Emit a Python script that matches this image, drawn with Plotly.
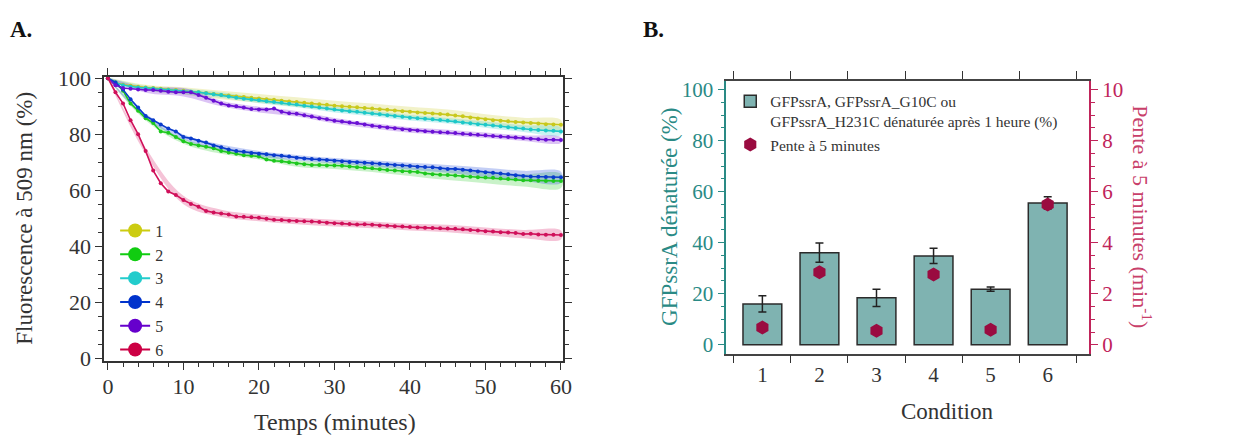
import plotly.graph_objects as go

# ---------------- Panel A data ----------------
time_min = list(range(0, 61))
series_names = ["1", "2", "3", "4", "5", "6"]
s1 = [100, 98.5, 97.7, 97.3, 97, 96.7, 96.5, 96.2, 96, 95.8, 95.5, 95.2, 95, 94.7, 94.4, 94, 93.8, 93.5, 93.3, 93,
      92.8, 92.5, 92.3, 92, 91.7, 91.5, 91.2, 91, 90.7, 90.5, 90.2, 90, 89.8, 89.6, 89.4, 89.2, 88.9, 88.7, 88.5, 88.2,
      88, 87.8, 87.6, 87.4, 87.2, 87, 86.7, 86.4, 86, 85.6, 85.3, 85, 84.8, 84.6, 84.4, 84.2, 84, 83.8, 83.6, 83.5, 83.4]
s2 = [100, 98.5, 95.5, 91, 88.4, 85.7, 84, 81, 80.5, 79, 77.5, 76.5, 76, 75.5, 75, 74, 73.5, 73, 72.5, 72.3,
      72, 71, 70.5, 70.3, 70, 69.5, 69.3, 69, 69, 68.8, 68.8, 68.7, 68.5, 68.2, 68, 67.8, 67.5, 67.2, 67, 66.8,
      66.6, 66.5, 66, 65.7, 65.5, 65.4, 65.2, 65, 64.8, 64.6, 64.5, 64.4, 64.2, 64, 63.8, 63.5, 63.5, 63.4, 63.3, 63.3, 63.3]
s3 = [100, 98.5, 97.5, 97, 96.7, 96.5, 96.3, 96, 95.8, 95.5, 95.3, 95.2, 95, 94.6, 94.3, 94, 93.5, 93, 92.7, 92.4,
      92.1, 91.8, 91.5, 91.2, 90.9, 90.6, 90.2, 89.9, 89.5, 89.2, 88.8, 88.5, 88.2, 88, 87.7, 87.4, 87.1, 86.8, 86.5, 86.2,
      85.9, 85.7, 85.5, 85.3, 85.1, 84.8, 84.5, 84.2, 83.9, 83.6, 83.4, 83.1, 82.8, 82.5, 82.2, 82, 81.7, 81.5, 81.3, 81.2, 81]
s4 = [100, 98.5, 96, 92.5, 89.5, 86.5, 85, 83.5, 82, 81, 79, 78.5, 77.7, 77, 76, 75.3, 74.5, 74, 73.7, 73.3,
      73, 72.8, 72.5, 72.3, 72, 71.6, 71.3, 71.1, 71, 70.8, 70.5, 70.3, 70.1, 70, 69.8, 69.6, 69.4, 69.2, 69, 68.8,
      68.6, 68.4, 68.3, 68.2, 67.8, 67.6, 67.6, 67.3, 67, 66.7, 66.4, 66.2, 66, 65.7, 65.3, 65.1, 64.9, 64.8, 64.7, 64.6, 64.6]
s5 = [100, 97.5, 96.5, 96.2, 96, 95.8, 95.8, 95.5, 95.2, 95, 95, 95, 94, 93, 92, 91, 90.3, 90, 89.5, 89,
      88.8, 88.8, 89.2, 88, 87.5, 87.3, 86.8, 86.3, 85.7, 85.3, 84.8, 84.5, 84.2, 84, 83.5, 83, 82.7, 82.4, 82.1, 81.8,
      81.5, 81.3, 81.1, 80.9, 80.7, 80.6, 80.4, 80.2, 80, 79.8, 79.6, 79.4, 79.2, 79, 78.8, 78.6, 78.4, 78.2, 78, 78, 77.9]
s6 = [100, 95, 91, 85, 80, 74, 67, 62.5, 59.5, 58.3, 56.5, 55.1, 54.1, 52.6, 52, 51.7, 51.3, 50.6, 50.5, 50.3,
      50.1, 49.8, 49.4, 49.3, 49.1, 49, 48.9, 48.8, 48.6, 48.4, 48.2, 48.1, 47.9, 47.7, 47.8, 47.6, 47.4, 47.3, 47.1, 47,
      46.8, 46.7, 46.6, 46.5, 46.4, 46.3, 46.2, 46, 45.8, 45.6, 45.3, 45.2, 45, 44.9, 44.7, 44.3, 44.4, 44.2, 44.1, 44.1, 44]
# band half-widths (SD) read every 5 minutes
band_time = [0, 5, 10, 15, 20, 25, 30, 35, 40, 45, 50, 55, 60]
sd1 = [0.3, 1.0, 1.3, 1.5, 1.6, 1.7, 1.8, 1.8, 1.8, 1.8, 1.8, 1.7, 1.7]
sd2 = [0.3, 0.8, 0.9, 1.0, 1.0, 1.1, 1.2, 1.3, 1.5, 1.8, 2.0, 2.2, 2.5]
sd3 = [0.3, 0.8, 1.0, 1.0, 1.0, 1.0, 1.0, 1.0, 1.0, 1.0, 1.1, 1.2, 1.3]
sd4 = [0.3, 0.8, 0.9, 1.0, 1.0, 1.0, 1.0, 1.1, 1.2, 1.4, 1.6, 1.8, 2.0]
sd5 = [0.3, 1.0, 1.5, 1.0, 1.0, 1.0, 1.0, 1.0, 1.0, 1.0, 1.0, 1.0, 1.0]
sd6 = [0.3, 1.2, 1.5, 1.3, 1.2, 1.2, 1.2, 1.2, 1.2, 1.3, 1.4, 1.5, 1.6]
series_values = [s1, s2, s3, s4, s5, s6]
series_sd = [sd1, sd2, sd3, sd4, sd5, sd6]
line_colors = ["#c8c81c", "#1ec81e", "#1ec8c8", "#0a3ccc", "#6a10d4", "#d0105a"]
legend_colors = ["#cccc11", "#11cc11", "#22cccc", "#0033cc", "#6600cc", "#cc0044"]
band_colors = ["rgba(210,210,60,0.28)", "rgba(60,210,60,0.28)", "rgba(60,210,210,0.28)",
               "rgba(40,80,220,0.28)", "rgba(130,40,220,0.28)", "rgba(220,40,110,0.28)"]

# ---------------- Panel B data ----------------
conditions = [1, 2, 3, 4, 5, 6]
condition_labels = ["1", "2", "3", "4", "5", "6"]
denatured_pct = [16.0, 36.1, 18.4, 34.8, 21.8, 55.6]
denatured_err = [3.2, 3.8, 3.4, 3.0, 0.8, 2.4]
slope_5min = [0.68, 2.84, 0.55, 2.75, 0.59, 5.50]

FONT = "Liberation Serif"
W, H = 1253, 438

# target positions are given in picture pixels; convert to page pixels, then to paper fractions
def px_x(p):
    return ((p - 0.9) / 0.991) / W

def px_y(p):
    return 1 - ((p - 11.4) / 0.954) / H

fig = go.Figure()

for name, vals, sd, lc, bc in zip(series_names, series_values, series_sd, line_colors, band_colors):
    idx = [time_min.index(t) for t in band_time]
    upper = [vals[i] + s for i, s in zip(idx, sd)]
    lower = [vals[i] - s for i, s in zip(idx, sd)]
    fig.add_trace(go.Scatter(x=band_time + band_time[::-1], y=upper + lower[::-1], fill="toself",
                             fillcolor=bc, line=dict(width=0), mode="lines", hoverinfo="skip",
                             showlegend=False, xaxis="x", yaxis="y", line_shape="spline"))
for name, vals, lc in zip(series_names, series_values, line_colors):
    fig.add_trace(go.Scatter(x=time_min, y=vals, mode="lines+markers", line=dict(color=lc, width=1.6),
                             marker=dict(color=lc, size=4), showlegend=False, xaxis="x", yaxis="y"))
for name, lc in zip(series_names, legend_colors):
    fig.add_trace(go.Scatter(x=[None], y=[None], mode="lines+markers", name=name,
                             line=dict(color=lc, width=2), marker=dict(color=lc, size=14),
                             xaxis="x", yaxis="y", legend="legend"))

fig.add_trace(go.Bar(x=conditions, y=denatured_pct, width=0.68,
                     name="GFPssrA, GFPssrA_G10C ou<br>GFPssrA_H231C dénaturée après 1 heure (%)",
                     marker=dict(color="#7fb3b1", line=dict(color="#2b2b2b", width=1.5)),
                     error_y=dict(type="data", array=denatured_err, color="#222222", thickness=1.5, width=4),
                     xaxis="x2", yaxis="y2", legend="legend2"))
fig.add_trace(go.Scatter(x=conditions, y=slope_5min, mode="markers", name="Pente à 5 minutes",
                         marker=dict(symbol="hexagon", size=14, color="#9a0b40"),
                         xaxis="x2", yaxis="y3", legend="legend2"))

axA_font = dict(family=FONT, size=22, color="#333333")
TEAL = "#2a8a85"
PINK = "#c0245a"
fig.update_layout(
    width=W, height=H, margin=dict(l=0, r=0, t=0, b=0),
    paper_bgcolor="white", plot_bgcolor="white",
    font=dict(family=FONT, color="#333333"),
    xaxis=dict(domain=[px_x(103), px_x(562)], range=[-0.5, 60.3], showgrid=False, zeroline=False,
               showline=True, linecolor="#333333", linewidth=1.5, mirror="allticks",
               ticks="outside", ticklen=7, tickwidth=1.2, tickcolor="#333333",
               tickvals=[0, 10, 20, 30, 40, 50, 60], tickfont=axA_font, ticklabelstandoff=-3,
               minor=dict(dtick=2, tick0=0, ticks="outside", ticklen=4, tickcolor="#333333")),
    yaxis=dict(domain=[px_y(361.7), px_y(77.5)], range=[-1.2, 100.4], showgrid=False, zeroline=False,
               showline=True, linecolor="#333333", linewidth=1.5, mirror="allticks",
               ticks="outside", ticklen=7, tickwidth=1.2, tickcolor="#333333",
               tickvals=[0, 20, 40, 60, 80, 100], tickfont=axA_font,
               minor=dict(dtick=5, tick0=0, ticks="outside", ticklen=4, tickcolor="#333333")),
    xaxis2=dict(domain=[px_x(725), px_x(1088)], range=[0.367, 6.73], showgrid=False, zeroline=False,
                showline=True, linecolor="#444444", linewidth=1.5, mirror="allticks",
                ticks="outside", ticklen=0, tickvals=conditions, ticktext=condition_labels,
                ticklabelstandoff=1,
                tickfont=dict(family=FONT, size=21, color="#333333"),
                minor=dict(tickvals=[0.5, 1.5, 2.5, 3.5, 4.5, 5.5, 6.5], ticks="outside", ticklen=8,
                           tickwidth=1.2, tickcolor="#333333"),
                anchor="y2"),
    yaxis2=dict(domain=[px_y(354), px_y(81)], range=[-3.5, 103.5], showgrid=False, zeroline=False,
                showline=True, linecolor=TEAL, linewidth=1.5,
                ticks="outside", ticklen=7, tickwidth=1.2, tickcolor=TEAL,
                tickvals=[0, 20, 40, 60, 80, 100], tickfont=dict(family=FONT, size=21, color=TEAL),
                minor=dict(dtick=5, tick0=0, ticks="outside", ticklen=4, tickcolor=TEAL),
                anchor="x2"),
    yaxis3=dict(domain=[px_y(354), px_y(81)], range=[-0.35, 10.35], overlaying="y2", side="right",
                showgrid=False, zeroline=False, showline=True, linecolor=PINK, linewidth=1.5,
                ticks="outside", ticklen=7, tickwidth=1.2, tickcolor=PINK,
                tickvals=[0, 2, 4, 6, 8, 10], tickfont=dict(family=FONT, size=21, color=PINK),
                minor=dict(dtick=0.5, tick0=0, ticks="outside", ticklen=4, tickcolor=PINK),
                anchor="x2"),
    legend=dict(x=px_x(114), y=px_y(214), xanchor="left", yanchor="top", bgcolor="rgba(0,0,0,0)",
                font=dict(family=FONT, size=16, color="#333333"), tracegroupgap=0, itemwidth=30),
    legend2=dict(x=px_x(729), y=px_y(85), xanchor="left", yanchor="top", bgcolor="rgba(0,0,0,0)",
                 font=dict(family=FONT, size=15.5, color="#333333"), valign="top", tracegroupgap=0),
    bargap=0.3,
)

annotations = [
    dict(text="<b>A.</b>", x=px_x(7), y=px_y(30), xanchor="left", yanchor="middle",
         font=dict(family=FONT, size=23, color="#111111")),
    dict(text="<b>B.</b>", x=px_x(640), y=px_y(30), xanchor="left", yanchor="middle",
         font=dict(family=FONT, size=23, color="#111111")),
    dict(text="Fluorescence à 509 nm (%)", x=px_x(24), y=px_y(219), textangle=-90,
         xanchor="center", yanchor="middle", font=dict(family=FONT, size=23, color="#333333")),
    dict(text="Temps (minutes)", x=px_x(334), y=px_y(422), xanchor="center", yanchor="middle",
         font=dict(family=FONT, size=24, color="#333333")),
    dict(text="GFPssrA dénaturée (%)", x=px_x(668), y=px_y(217), textangle=-90,
         xanchor="center", yanchor="middle", font=dict(family=FONT, size=23, color=TEAL)),
    dict(text="Pente à 5 minutes (min<sup>-1</sup>)", x=px_x(1141), y=px_y(217), textangle=90,
         xanchor="center", yanchor="middle", font=dict(family=FONT, size=22, color="#c8406a")),
    dict(text="Condition", x=px_x(946), y=px_y(412), xanchor="center", yanchor="middle",
         font=dict(family=FONT, size=23, color="#333333")),
]
for a in annotations:
    a.update(xref="paper", yref="paper", showarrow=False)
fig.update_layout(annotations=annotations)

fig.write_html("out.html", config={"displayModeBar": False},
               post_script="document.body.style.margin='0px';document.body.style.overflow='hidden';")
